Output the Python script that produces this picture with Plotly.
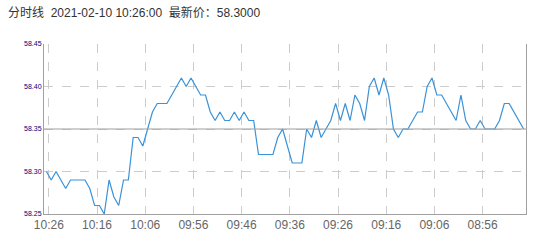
import plotly.graph_objects as go
from datetime import datetime, timedelta

# ---- data ----
title_text = "分时线  2021-02-10 10:26:00  最新价：58.3000"
prev_close = 58.35
prices = [
    58.30, 58.29, 58.30, 58.29, 58.28, 58.29, 58.29, 58.29, 58.29, 58.28,
    58.26, 58.26, 58.25, 58.29, 58.27, 58.26, 58.29, 58.29, 58.34, 58.34,
    58.33, 58.35, 58.37, 58.38, 58.38, 58.38, 58.39, 58.40, 58.41, 58.40,
    58.41, 58.40, 58.39, 58.39, 58.37, 58.36, 58.37, 58.36, 58.36, 58.37,
    58.36, 58.37, 58.36, 58.36, 58.32, 58.32, 58.32, 58.32, 58.34, 58.35,
    58.33, 58.31, 58.31, 58.31, 58.35, 58.34, 58.36, 58.34, 58.35, 58.36,
    58.38, 58.36, 58.38, 58.36, 58.39, 58.38, 58.36, 58.40, 58.41, 58.39,
    58.41, 58.39, 58.35, 58.34, 58.35, 58.35, 58.36, 58.37, 58.37, 58.40,
    58.41, 58.39, 58.39, 58.38, 58.37, 58.36, 58.39, 58.36, 58.35, 58.35,
    58.36, 58.35, 58.35, 58.35, 58.36, 58.38, 58.38, 58.37, 58.36, 58.35,
]
start = datetime(2021, 2, 10, 10, 26)
times = [(start - timedelta(minutes=i)).strftime("%H:%M") for i in range(len(prices))]
y_ticks = [58.25, 58.30, 58.35, 58.40, 58.45]
label_every = 10

idx = list(range(len(prices)))
tick_idx = idx[::label_every]

fig = go.Figure()
fig.add_trace(go.Scatter(
    x=idx, y=prices, mode="lines",
    line=dict(color="#3a92d8", width=1.2),
    hoverinfo="skip", showlegend=False,
))
fig.add_hline(y=prev_close, line=dict(color="#a0a0a0", width=1.2))

fig.update_layout(
    width=542, height=252,
    margin=dict(l=44, r=16, t=44, b=38),
    paper_bgcolor="white", plot_bgcolor="white",
    title=dict(text=title_text, x=8 / 542, xref="container", xanchor="left",
               y=1, yref="container", yanchor="top",
               pad=dict(t=9),
               font=dict(family="Arial, 'Noto Sans CJK SC', sans-serif", size=12, color="#333333")),
    showlegend=False,
)

fig.update_xaxes(
    range=[-0.5, len(prices) - 0.5],
    tickmode="array",
    tickvals=[i + 0.5 for i in tick_idx],
    ticktext=[times[i] for i in tick_idx],
    showgrid=True, gridcolor="#cccccc", griddash="dash", gridwidth=1,
    showline=True, linecolor="#a0a0a0", linewidth=1,
    ticks="", zeroline=False,
    tickfont=dict(family="Arial, sans-serif", size=12, color="#666666"),
)
fig.update_yaxes(
    range=[y_ticks[0], y_ticks[-1]],
    tickmode="array", tickvals=y_ticks,
    ticktext=[f"{v:.2f}" for v in y_ticks],
    showgrid=True, gridcolor="#cccccc", griddash="dash", gridwidth=1,
    showline=True, linecolor="#a0a0a0", linewidth=1, mirror=True,
    ticks="", zeroline=False,
    tickfont=dict(family="Arial, sans-serif", size=7, color="#000080"),
)

fig.write_html("out.html")
